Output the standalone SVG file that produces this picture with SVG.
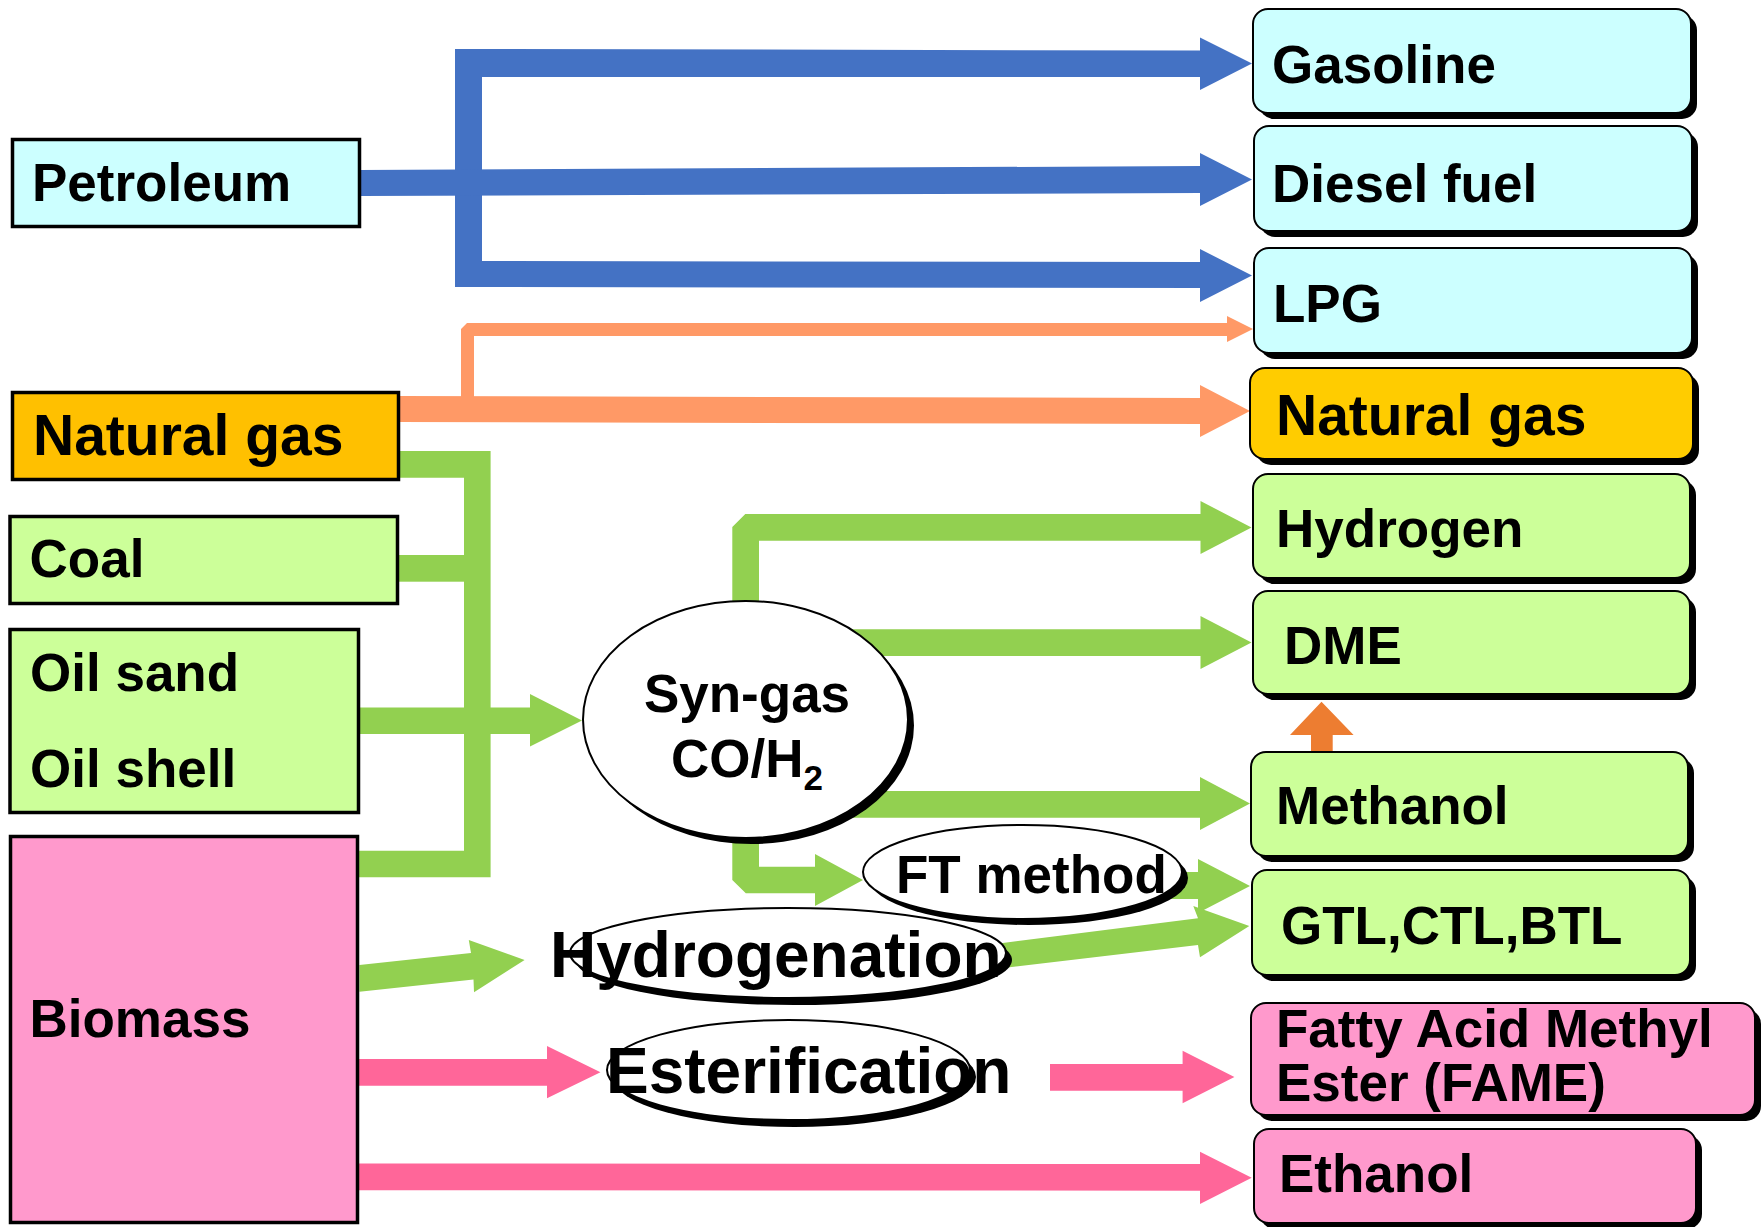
<svg xmlns="http://www.w3.org/2000/svg" width="1764" height="1227" viewBox="0 0 1764 1227">
<style>
text{font-family:"Liberation Sans",Arial,sans-serif;font-weight:bold;fill:#000}
.t52{font-size:53px}
.t56{font-size:57px}
.t63{font-size:64px}
.src{stroke:#000;stroke-width:3.5}
.dst{stroke:#000;stroke-width:2}
.sh{fill:#000}
.cyan{fill:#CCFFFF}
.lg{fill:#CCFF99}
.pk{fill:#FF99CC}
.blue{fill:#4472C4}
.org{fill:#FF9966}
.grn{fill:#92D050}
.pnk{fill:#FF6699}
.dorg{fill:#ED7D31}
.ell{fill:#fff;stroke:#000;stroke-width:2}
</style>
<rect width="1764" height="1227" fill="#fff"/>
<g id="connectors">
  <!-- Petroleum (blue) -->
  <rect class="blue" x="455" y="49" width="27" height="238"/>
  <path class="blue" d="M455,49 L1200,50.5 L1200,37.5 L1252,63.5 L1200,90 L1200,77 L455,77 Z"/>
  <path class="blue" d="M360,170 L1200,166 L1200,153 L1252,179.5 L1200,206 L1200,193 L360,196 Z"/>
  <path class="blue" d="M455,261 L1200,262 L1200,249 L1252,275.5 L1200,302 L1200,288 L455,287 Z"/>
  <!-- Natural gas (orange) -->
  <path class="org" d="M400,396 L1200,398 L1200,385 L1250,411 L1200,437 L1200,424 L400,422 Z"/>
  <path class="org" d="M461,400 L461,329 L467,323 L1227,323 L1227,316 L1253,329 L1227,342 L1227,336 L474,336 L474,400 Z"/>
  <!-- Feedstocks to syn-gas (green) -->
  <path class="grn" d="M400,451 L490.6,451 L490.6,877.3 L359,877.3 L359,850.7 L464,850.7 L464,477.7 L400,477.7 Z"/>
  <rect class="grn" x="399" y="555" width="66" height="26.7"/>
  <path class="grn" d="M360,707.5 L530,707.5 L530,694 L582,720.5 L530,746.5 L530,734 L360,734 Z"/>
  <!-- Syn-gas outputs -->
  <path class="grn" d="M732.3,620 L732.3,527 L745.3,514 L1200.5,514 L1200.5,501 L1251.5,527.5 L1200.5,554 L1200.5,540.7 L759,540.7 L759,620 Z"/>
  <path class="grn" d="M840,629.3 L1200.5,629.3 L1200.5,616 L1251.5,642.5 L1200.5,669 L1200.5,656 L840,656 Z"/>
  <path class="grn" d="M840,791 L1200,791 L1200,777 L1250,803.5 L1200,830 L1200,817.7 L840,817.7 Z"/>
  <path class="grn" d="M732.3,820 L732.3,880 L745.8,893.3 L815,893.3 L815,906 L863,880 L815,854 L815,866.7 L759,866.7 L759,820 Z"/>
  <path class="grn" d="M1150,872 L1198,872 L1198,859 L1250,886 L1198,913 L1198,899 L1150,899 Z"/>
  <path class="grn" d="M995,944 L1198,918.3 L1193.3,906 L1249.3,926 L1200,957.3 L1198,945 L995,969 Z"/>
  <!-- Biomass -->
  <path class="grn" d="M359.4,965 L471,953 L468.8,940 L524.6,960 L474,992.3 L473.5,979.5 L359.4,991.7 Z"/>
  <path class="pnk" d="M359,1059 L547,1059 L547,1046 L600.5,1072.3 L547,1098.3 L547,1085.7 L359,1085.7 Z"/>
  <path class="pnk" d="M1050,1064 L1182.6,1064 L1182.6,1050.7 L1234.4,1077 L1182.6,1103.3 L1182.6,1090.7 L1050,1090.7 Z"/>
  <path class="pnk" d="M359,1163.5 L1200,1164 L1200,1151.7 L1251.7,1177.8 L1200,1204 L1200,1190.7 L359,1190.3 Z"/>
  <!-- Methanol to DME -->
  <path class="dorg" d="M1311,752 L1311,735 L1290,735 L1321.5,701.7 L1353.6,735 L1332.7,735 L1332.7,752 Z"/>
</g>
<g id="petroleum">
  <rect class="src cyan" x="12.5" y="139.5" width="347" height="87"/>
  <text class="t52" x="32" y="201">Petroleum</text>
</g>
<g id="natural-gas-src">
  <rect class="src" fill="#FFC000" x="12.5" y="392.5" width="386" height="87"/>
  <text class="t56" x="33" y="455">Natural gas</text>
</g>
<g id="coal">
  <rect class="src lg" x="10" y="516.5" width="387.5" height="87"/>
  <text class="t52" x="29.5" y="577">Coal</text>
</g>
<g id="oil-sand">
  <rect class="src lg" x="10" y="629.5" width="348.5" height="183"/>
  <text class="t52" x="30" y="691">Oil sand</text>
  <text class="t52" x="30" y="787">Oil shell</text>
</g>
<g id="biomass">
  <rect class="src pk" x="10.5" y="836.5" width="347" height="386"/>
  <text class="t52" x="29.5" y="1037">Biomass</text>
</g>
<g id="syngas">
  <ellipse class="sh" cx="751.5" cy="725.5" rx="162.5" ry="118.5"/>
  <ellipse class="ell" cx="745.5" cy="719.5" rx="162.5" ry="118.5"/>
  <text class="t52" x="747" y="712" text-anchor="middle">Syn-gas</text>
  <text class="t52" x="747" y="777" text-anchor="middle">CO/H<tspan font-size="35" dy="13">2</tspan></text>
</g>
<g id="ft-method">
  <ellipse class="sh" cx="1028.5" cy="878" rx="159.5" ry="47"/>
  <ellipse class="ell" cx="1022.5" cy="872" rx="159.5" ry="47"/>
  <text class="t52" x="896" y="893">FT method</text>
</g>
<g id="hydrogenation">
  <ellipse class="sh" cx="794" cy="960" rx="218" ry="45"/>
  <ellipse class="ell" cx="788" cy="953" rx="218" ry="45"/>
  <text class="t63" x="550" y="977">Hydrogenation</text>
</g>
<g id="esterification">
  <ellipse class="sh" cx="794.5" cy="1077" rx="181.5" ry="50"/>
  <ellipse class="ell" cx="788.5" cy="1070" rx="181.5" ry="50"/>
  <text class="t63" x="606" y="1093">Esterification</text>
</g>
<g id="gasoline">
  <rect class="sh" x="1259" y="15" width="438" height="104" rx="15"/>
  <rect class="dst cyan" x="1253" y="9" width="438" height="104" rx="15"/>
  <text class="t52" x="1272" y="83">Gasoline</text>
</g>
<g id="diesel">
  <rect class="sh" x="1260" y="132" width="438" height="105" rx="15"/>
  <rect class="dst cyan" x="1254" y="126" width="438" height="105" rx="15"/>
  <text class="t52" x="1272" y="202">Diesel fuel</text>
</g>
<g id="lpg">
  <rect class="sh" x="1260" y="254" width="438" height="105" rx="15"/>
  <rect class="dst cyan" x="1254" y="248" width="438" height="105" rx="15"/>
  <text class="t52" x="1273" y="322">LPG</text>
</g>
<g id="natural-gas-out">
  <rect class="sh" x="1256" y="374" width="443" height="91" rx="15"/>
  <rect class="dst" fill="#FFCC00" x="1250" y="368" width="443" height="91" rx="15"/>
  <text class="t56" x="1276" y="435">Natural gas</text>
</g>
<g id="hydrogen">
  <rect class="sh" x="1259" y="480" width="437" height="104" rx="15"/>
  <rect class="dst lg" x="1253" y="474" width="437" height="104" rx="15"/>
  <text class="t52" x="1276" y="547">Hydrogen</text>
</g>
<g id="dme">
  <rect class="sh" x="1259" y="597" width="437" height="103" rx="15"/>
  <rect class="dst lg" x="1253" y="591" width="437" height="103" rx="15"/>
  <text class="t52" x="1284" y="664">DME</text>
</g>
<g id="methanol">
  <rect class="sh" x="1257" y="758" width="437" height="104" rx="15"/>
  <rect class="dst lg" x="1251" y="752" width="437" height="104" rx="15"/>
  <text class="t52" x="1276" y="824">Methanol</text>
</g>
<g id="gtl">
  <rect class="sh" x="1258" y="876" width="438" height="105" rx="15"/>
  <rect class="dst lg" x="1252" y="870" width="438" height="105" rx="15"/>
  <text class="t52" x="1281" y="944">GTL,CTL,BTL</text>
</g>
<g id="fame">
  <rect class="sh" x="1257" y="1009" width="504" height="112" rx="15"/>
  <rect class="dst pk" x="1251" y="1003" width="504" height="112" rx="15"/>
  <text class="t52" x="1276" y="1047" font-size="51.5">Fatty Acid Methyl</text>
  <text class="t52" x="1276" y="1101" font-size="51.5">Ester (FAME)</text>
</g>
<g id="ethanol">
  <rect class="sh" x="1260" y="1135" width="442" height="94" rx="15"/>
  <rect class="dst pk" x="1254" y="1129" width="442" height="94" rx="15"/>
  <text class="t52" x="1279" y="1192">Ethanol</text>
</g>
</svg>
